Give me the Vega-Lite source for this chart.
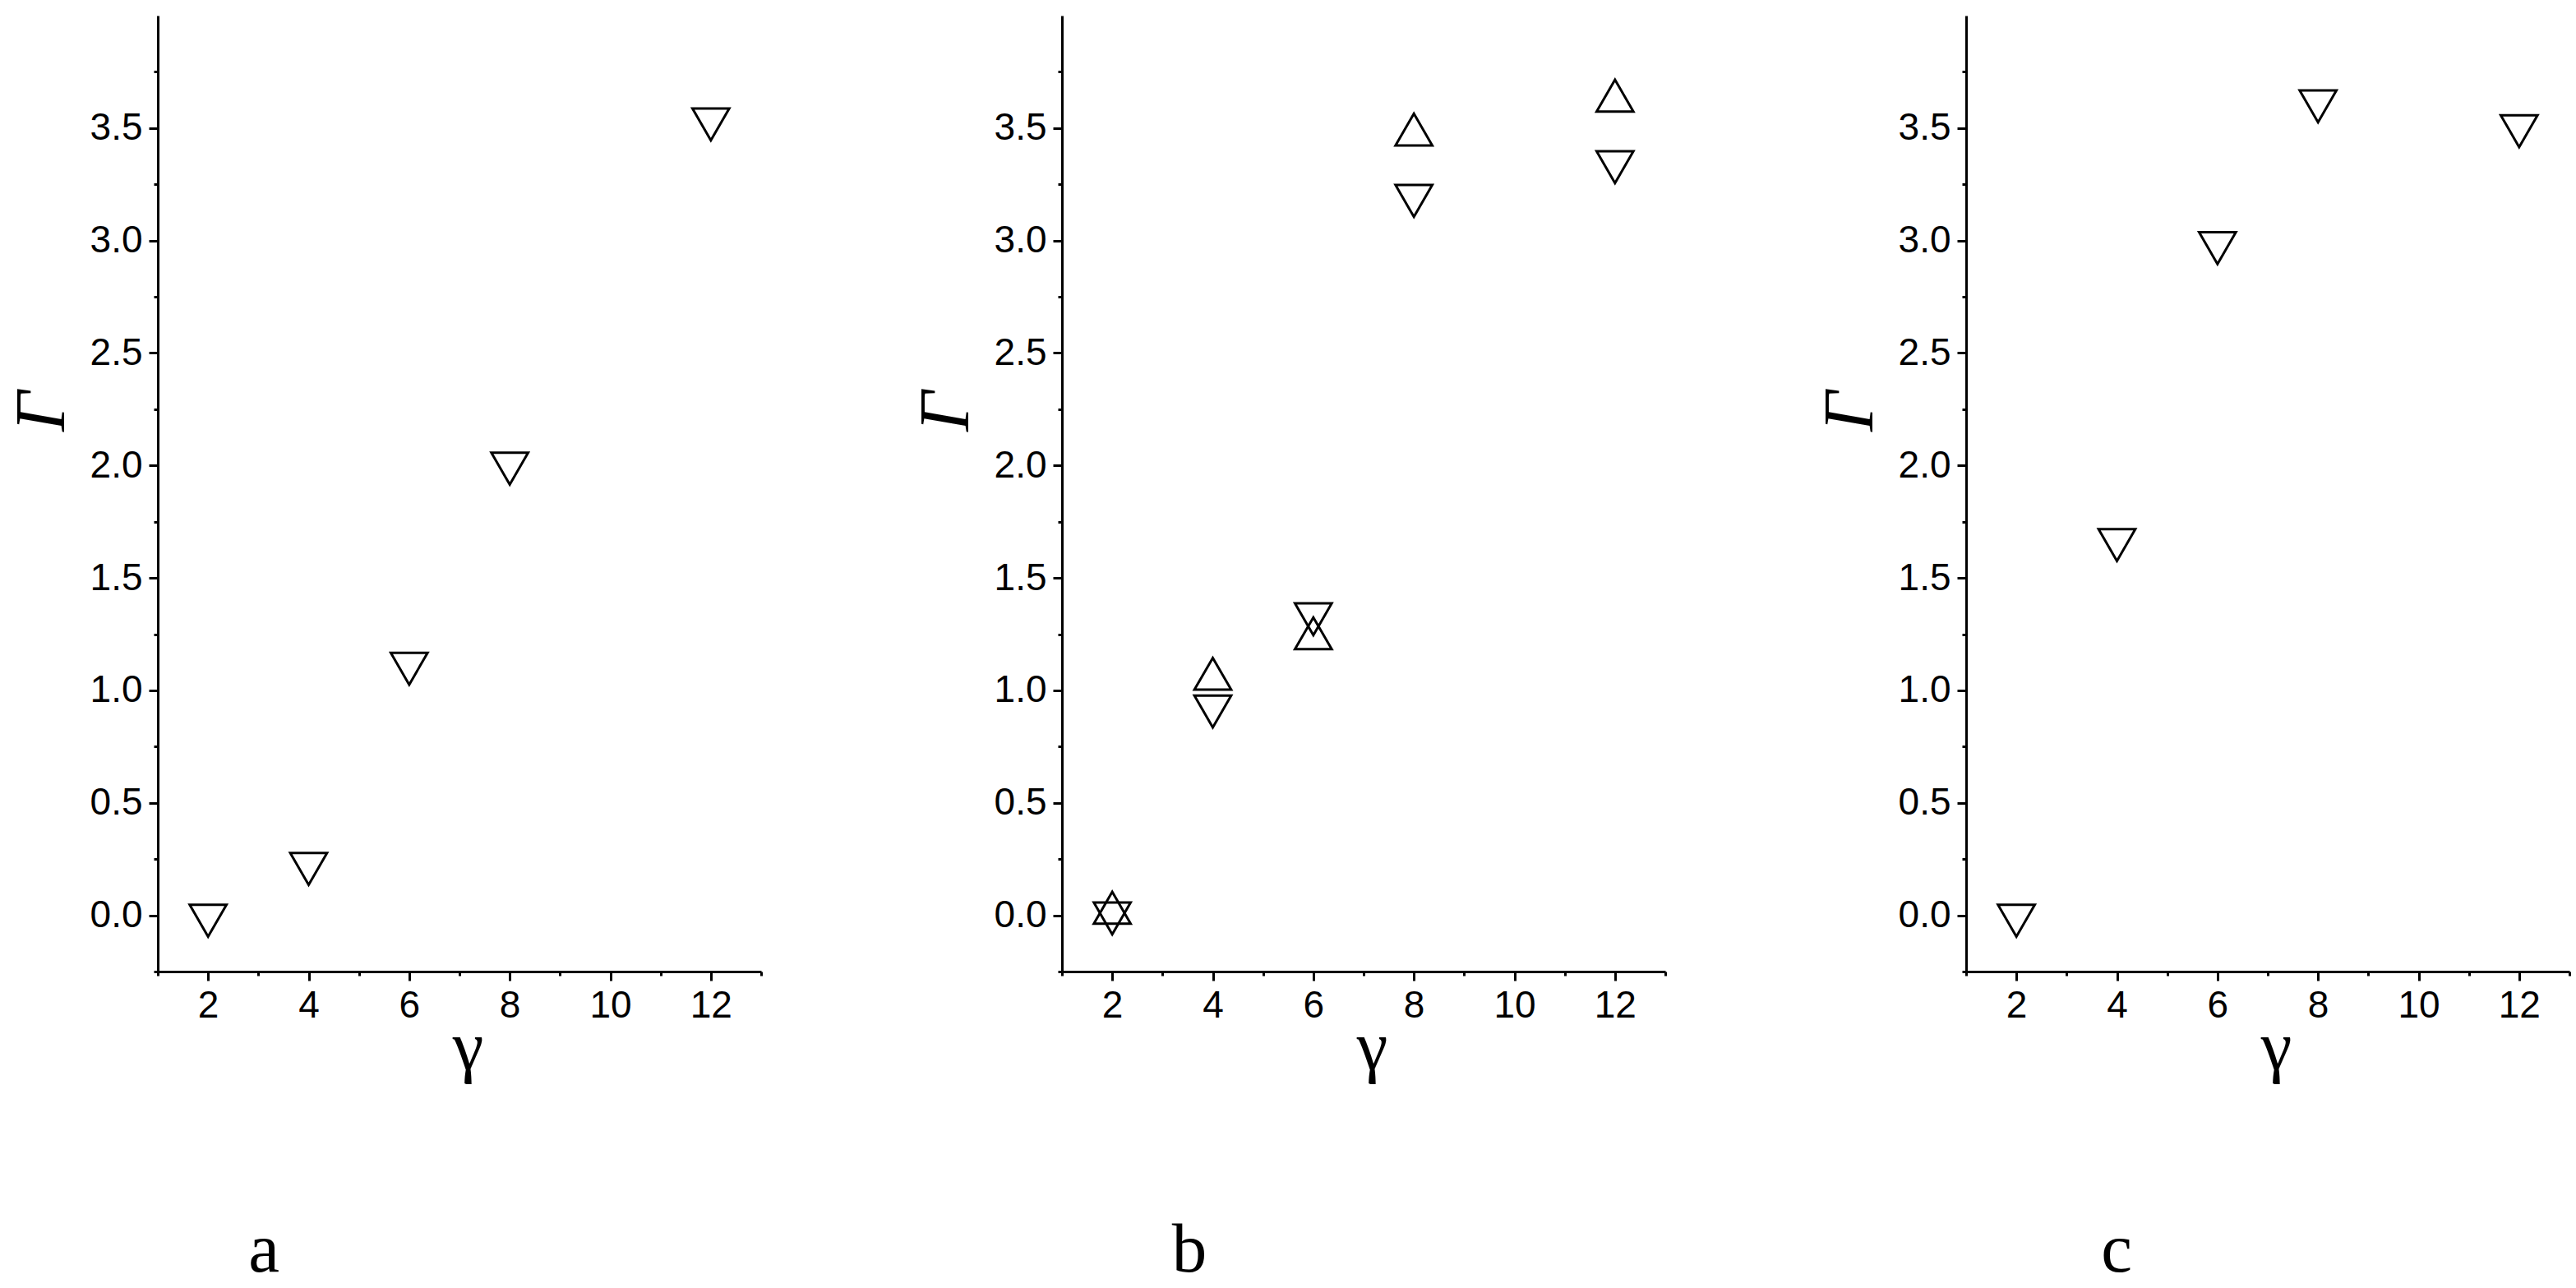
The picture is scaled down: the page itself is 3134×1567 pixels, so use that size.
{
  "$schema": "https://vega.github.io/schema/vega-lite/v6.json",
  "background": "white",
  "padding": {"left": 8, "top": 19, "right": 0, "bottom": 0},
  "data": {
    "values": [
      {"panel": "a", "series": "down", "gamma": 2, "Gamma": 0.0},
      {"panel": "a", "series": "down", "gamma": 4, "Gamma": 0.23},
      {"panel": "a", "series": "down", "gamma": 6, "Gamma": 1.12},
      {"panel": "a", "series": "down", "gamma": 8, "Gamma": 2.01},
      {"panel": "a", "series": "down", "gamma": 12, "Gamma": 3.54},
      {"panel": "b", "series": "down", "gamma": 2, "Gamma": 0.01},
      {"panel": "b", "series": "down", "gamma": 4, "Gamma": 0.93},
      {"panel": "b", "series": "down", "gamma": 6, "Gamma": 1.34},
      {"panel": "b", "series": "down", "gamma": 8, "Gamma": 3.2},
      {"panel": "b", "series": "down", "gamma": 12, "Gamma": 3.35},
      {"panel": "b", "series": "up", "gamma": 2, "Gamma": 0.01},
      {"panel": "b", "series": "up", "gamma": 4, "Gamma": 1.05},
      {"panel": "b", "series": "up", "gamma": 6, "Gamma": 1.23},
      {"panel": "b", "series": "up", "gamma": 8, "Gamma": 3.47},
      {"panel": "b", "series": "up", "gamma": 12, "Gamma": 3.62},
      {"panel": "c", "series": "down", "gamma": 2, "Gamma": 0.0},
      {"panel": "c", "series": "down", "gamma": 4, "Gamma": 1.67},
      {"panel": "c", "series": "down", "gamma": 6, "Gamma": 2.99},
      {"panel": "c", "series": "down", "gamma": 8, "Gamma": 3.62},
      {"panel": "c", "series": "down", "gamma": 12, "Gamma": 3.51}
    ]
  },
  "spacing": 180,
  "hconcat": [
    {
      "width": 734,
      "height": 1163,
      "title": {"text": "a", "orient": "bottom", "frame": "group", "anchor": "start", "align": "center", "dx": 129, "offset": 230, "baseline": "alphabetic"},
      "transform": [{"filter": "datum.panel == 'a'"}],
      "layer": [
        {
          "mark": {"type": "point", "opacity": 0},
          "encoding": {
            "x": {"field": "gamma", "type": "quantitative", "scale": {"domain": [1, 13], "nice": false, "zero": false},
              "axis": {"orient": "bottom", "values": [1, 3, 5, 7, 9, 11, 13], "labels": false, "domain": false, "tickSize": 5, "title": null}},
            "y": {"field": "Gamma", "type": "quantitative", "scale": {"domain": [-0.25, 4.0], "nice": false, "zero": false},
              "axis": {"orient": "left", "values": [-0.25, 0.25, 0.75, 1.25, 1.75, 2.25, 2.75, 3.25, 3.75], "labels": false, "domain": false, "tickSize": 5, "title": null}}
          }
        },
        {
          "transform": [{"filter": "datum.series == 'down'"}],
          "mark": {"type": "point", "shape": "triangle-down", "filled": false, "size": 2000, "strokeWidth": 3, "color": "black", "opacity": 1, "yOffset": 6.5},
          "encoding": {
            "x": {"field": "gamma", "type": "quantitative",
              "axis": {"orient": "bottom", "values": [2, 4, 6, 8, 10, 12], "title": "γ", "titleX": 377, "titleY": 118}},
            "y": {"field": "Gamma", "type": "quantitative",
              "axis": {"orient": "left", "values": [0, 0.5, 1, 1.5, 2, 2.5, 3, 3.5], "format": ".1f", "title": "Γ", "titleX": -115, "titleY": 481}}
          }
        }
      ],
      "resolve": {"axis": {"x": "independent", "y": "independent"}}
    },
    {
      "width": 734,
      "height": 1163,
      "title": {"text": "b", "orient": "bottom", "frame": "group", "anchor": "start", "align": "center", "dx": 155, "offset": 230, "baseline": "alphabetic"},
      "transform": [{"filter": "datum.panel == 'b'"}],
      "layer": [
        {
          "mark": {"type": "point", "opacity": 0},
          "encoding": {
            "x": {"field": "gamma", "type": "quantitative", "scale": {"domain": [1, 13], "nice": false, "zero": false},
              "axis": {"orient": "bottom", "values": [1, 3, 5, 7, 9, 11, 13], "labels": false, "domain": false, "tickSize": 5, "title": null}},
            "y": {"field": "Gamma", "type": "quantitative", "scale": {"domain": [-0.25, 4.0], "nice": false, "zero": false},
              "axis": {"orient": "left", "values": [-0.25, 0.25, 0.75, 1.25, 1.75, 2.25, 2.75, 3.25, 3.75], "labels": false, "domain": false, "tickSize": 5, "title": null}}
          }
        },
        {
          "transform": [{"filter": "datum.series == 'down'"}],
          "mark": {"type": "point", "shape": "triangle-down", "filled": false, "size": 2000, "strokeWidth": 3, "color": "black", "opacity": 1, "yOffset": 6.5},
          "encoding": {
            "x": {"field": "gamma", "type": "quantitative",
              "axis": {"orient": "bottom", "values": [2, 4, 6, 8, 10, 12], "title": "γ", "titleX": 377, "titleY": 118}},
            "y": {"field": "Gamma", "type": "quantitative",
              "axis": {"orient": "left", "values": [0, 0.5, 1, 1.5, 2, 2.5, 3, 3.5], "format": ".1f", "title": "Γ", "titleX": -115, "titleY": 481}}
          }
        },
        {
          "transform": [{"filter": "datum.series == 'up'"}],
          "mark": {"type": "point", "shape": "triangle-up", "filled": false, "size": 2000, "strokeWidth": 3, "color": "black", "opacity": 1, "yOffset": -6.5},
          "encoding": {
            "x": {"field": "gamma", "type": "quantitative", "axis": null},
            "y": {"field": "Gamma", "type": "quantitative", "axis": null}
          }
        }
      ],
      "resolve": {"axis": {"x": "independent", "y": "independent"}}
    },
    {
      "width": 734,
      "height": 1163,
      "title": {"text": "c", "orient": "bottom", "frame": "group", "anchor": "start", "align": "center", "dx": 183, "offset": 230, "baseline": "alphabetic"},
      "transform": [{"filter": "datum.panel == 'c'"}],
      "layer": [
        {
          "mark": {"type": "point", "opacity": 0},
          "encoding": {
            "x": {"field": "gamma", "type": "quantitative", "scale": {"domain": [1, 13], "nice": false, "zero": false},
              "axis": {"orient": "bottom", "values": [1, 3, 5, 7, 9, 11, 13], "labels": false, "domain": false, "tickSize": 5, "title": null}},
            "y": {"field": "Gamma", "type": "quantitative", "scale": {"domain": [-0.25, 4.0], "nice": false, "zero": false},
              "axis": {"orient": "left", "values": [-0.25, 0.25, 0.75, 1.25, 1.75, 2.25, 2.75, 3.25, 3.75], "labels": false, "domain": false, "tickSize": 5, "title": null}}
          }
        },
        {
          "transform": [{"filter": "datum.series == 'down'"}],
          "mark": {"type": "point", "shape": "triangle-down", "filled": false, "size": 2000, "strokeWidth": 3, "color": "black", "opacity": 1, "yOffset": 6.5},
          "encoding": {
            "x": {"field": "gamma", "type": "quantitative",
              "axis": {"orient": "bottom", "values": [2, 4, 6, 8, 10, 12], "title": "γ", "titleX": 377, "titleY": 118}},
            "y": {"field": "Gamma", "type": "quantitative",
              "axis": {"orient": "left", "values": [0, 0.5, 1, 1.5, 2, 2.5, 3, 3.5], "format": ".1f", "title": "Γ", "titleX": -115, "titleY": 481}}
          }
        }
      ],
      "resolve": {"axis": {"x": "independent", "y": "independent"}}
    }
  ],
  "config": {
    "view": {"stroke": null},
    "axis": {
      "grid": false,
      "domainColor": "black",
      "domainWidth": 3,
      "tickColor": "black",
      "tickWidth": 3,
      "tickSize": 11,
      "labelColor": "black",
      "labelFont": "Liberation Sans",
      "labelFontSize": 46,
      "labelPadding": 8,
      "labelFlush": false,
      "labelOverlap": false,
      "titleColor": "black",
      "titleFont": "Liberation Serif",
      "titleFontWeight": "normal",
      "titleBaseline": "alphabetic",
      "titleAlign": "center"
    },
    "axisY": {"titleFontSize": 86, "titleFontStyle": "italic", "titleAngle": 270},
    "axisX": {"titleFontSize": 85},
    "title": {"font": "Liberation Serif", "fontSize": 85, "fontWeight": "normal", "color": "black"}
  }
}
